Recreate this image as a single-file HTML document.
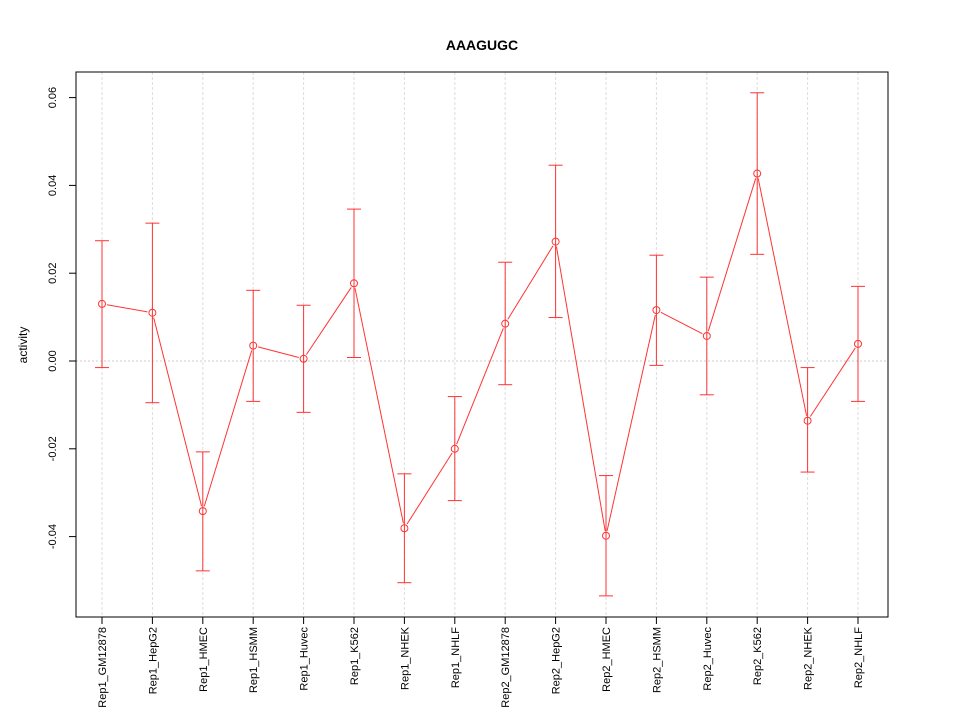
<!DOCTYPE html>
<html><head><meta charset="utf-8"><style>body{margin:0;background:#fff}svg{display:block;font-family:"Liberation Sans",sans-serif}</style></head>
<body>
<svg id="chart" width="960" height="720" xmlns="http://www.w3.org/2000/svg">
<rect width="960" height="720" fill="#fff"/>
<text x="482" y="50" text-anchor="middle" font-size="14" font-weight="bold">AAAGUGC</text>
<text transform="translate(27,345) rotate(-90)" text-anchor="middle" font-size="12">activity</text>
<g id="grid"></g><g id="axes"></g><g id="marks"></g>
<rect x="76" y="72" width="812" height="545" fill="none" stroke="#000"/>
</svg>
<script>
const categories=["Rep1_GM12878","Rep1_HepG2","Rep1_HMEC","Rep1_HSMM","Rep1_Huvec","Rep1_K562","Rep1_NHEK","Rep1_NHLF","Rep2_GM12878","Rep2_HepG2","Rep2_HMEC","Rep2_HSMM","Rep2_Huvec","Rep2_K562","Rep2_NHEK","Rep2_NHLF"];
const values=[0.013,0.011,-0.0342,0.0035,0.0005,0.0177,-0.0381,-0.0200,0.0085,0.0272,-0.0398,0.0116,0.0057,0.0427,-0.0136,0.0039];
const lower=[-0.0015,-0.0095,-0.0478,-0.0092,-0.0117,0.0008,-0.0505,-0.0318,-0.0054,0.0099,-0.0535,-0.0010,-0.0077,0.0243,-0.0253,-0.0092];
const upper=[0.0274,0.0314,-0.0207,0.0161,0.0127,0.0346,-0.0257,-0.0081,0.0225,0.0446,-0.0261,0.0241,0.0191,0.0611,-0.0015,0.0170];
const yTicks=[-0.04,-0.02,0.00,0.02,0.04,0.06];
const yTickLabels=["-0.04","-0.02","0.00","0.02","0.04","0.06"];
const NS="http://www.w3.org/2000/svg";
function x(i){return 102+i*(858-102)/(categories.length-1);}
function y(v){return 361-v*4390;}
function mk(tag,attrs,parent){const e=document.createElementNS(NS,tag);for(const k in attrs)e.setAttribute(k,attrs[k]);document.getElementById(parent).appendChild(e);return e;}
const z=mk("line",{x1:76,x2:888,y1:y(0),y2:y(0),stroke:"#ccc","stroke-dasharray":"2,2"},"grid");


categories.forEach((c,i)=>{
 const g=mk("line",{x1:x(i),x2:x(i),y1:72,y2:617,stroke:"#ddd","stroke-dasharray":"3,2"},"grid");
 
 
 const t=mk("line",{x1:x(i),x2:x(i),y1:617,y2:624,stroke:"#000"},"axes");
 
 
 const l=mk("text",{transform:`translate(${x(i)+4},627) rotate(-90)`,"text-anchor":"end","font-size":"11"},"axes");
 l.textContent=c;
 
 
});
yTicks.forEach((v,i)=>{
 const t=mk("line",{x1:69,x2:76,y1:y(v),y2:y(v),stroke:"#000"},"axes");
 
 
 const l=mk("text",{transform:`translate(56,${y(v)}) rotate(-90)`,"text-anchor":"middle","font-size":"11"},"axes");
 l.textContent=yTickLabels[i];
 
 
});
values.forEach((v,i)=>{
 const e=mk("line",{x1:x(i),x2:x(i),y1:y(lower[i]),y2:y(upper[i]),stroke:"#f33"},"marks");
 
 
 [lower[i],upper[i]].forEach(b=>{
  const c=mk("line",{x1:x(i)-7,x2:x(i)+7,y1:y(b),y2:y(b),stroke:"#f33"},"marks");
  
  
 });
 if(i>0){
  const x0=x(i-1),y0=y(values[i-1]),x1=x(i),y1=y(v),d=Math.hypot(x1-x0,y1-y0),r=5/d;
  const s=mk("line",{x1:x0+(x1-x0)*r,y1:y0+(y1-y0)*r,x2:x1-(x1-x0)*r,y2:y1-(y1-y0)*r,stroke:"#f33"},"marks");
  
  
 }
 const p=mk("circle",{cx:x(i),cy:y(v),r:3.5,fill:"none",stroke:"#f33"},"marks");
 
 
});
</script>
</body></html>
